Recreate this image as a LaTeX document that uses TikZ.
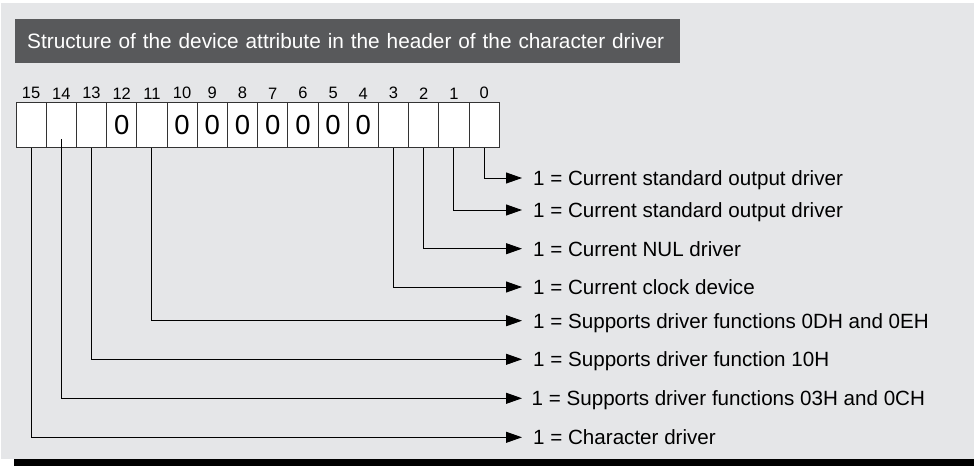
\documentclass[tikz,border=0pt]{standalone}
\usepackage{fontspec}
\setmainfont{Liberation Sans}
\usetikzlibrary{arrows.meta,calc}
\definecolor{bggray}{HTML}{E5E6E8}
\definecolor{barcol}{HTML}{58595B}
\definecolor{cellline}{HTML}{333333}
\tikzset{
  bitcell/.style={draw=cellline, line width=0.9pt, fill=white, minimum width=30.2pt, minimum height=45.4pt, inner sep=0pt},
  zero/.style={inner sep=0pt, font=\fontsize{27.5}{30}\selectfont},
  bitnum/.style={anchor=south, inner sep=0pt, font=\fontsize{16.5}{18}\selectfont},
  desc/.style={anchor=west, inner xsep=11pt, inner ysep=0pt, text height=14.7pt, text depth=0pt, font=\fontsize{20.6}{24}\selectfont},
  conn/.style={draw=black, line width=0.9pt, -{Triangle[length=16pt,width=11pt]}},
  titlebar/.style={fill=barcol, text=white, anchor=north west, minimum height=43.7pt, inner xsep=12pt, inner ysep=0pt, text width=641pt, align=left, font=\fontsize{20.8}{24}\selectfont}
}
\begin{document}
\begin{tikzpicture}[x=1pt,y=-1pt]
\useasboundingbox (0,0) rectangle (974,466);
\fill[bggray] (1,3) rectangle (974,459);
\fill[black] (14,459) rectangle (974,466);
\node[titlebar] (title) at (15,19) {Structure of the device attribute in the header of the character driver};
% bit cells
\foreach \i in {15,...,0}{
  \pgfmathsetmacro{\cx}{16+(15-\i)*30.2+15.1}
  \node[bitcell] (c\i) at (\cx,125) {};
  \node[bitnum] (n\i) at ([yshift=2.6pt]c\i.north) {\i};
}
\foreach \i in {12,10,9,8,7,6,5,4}{
  \node[zero] (z\i) at (c\i.center) {0};
}
% descriptions
\node[desc] (d0) at (522,178) {1 = Current standard output driver};
\node[desc] (d1) at (522,210) {1 = Current standard output driver};
\node[desc] (d2) at (522,248.7) {1 = Current NUL driver};
\node[desc] (d3) at (522,287) {1 = Current clock device};
\node[desc] (d11) at (522,320.7) {1 = Supports driver functions 0DH and 0EH};
\node[desc] (d13) at (522,359.3) {1 = Supports driver function 10H};
\node[desc, inner xsep=9.5pt] (d14) at (522,398.3) {1 = Supports driver functions 03H and 0CH};
\node[desc] (d15) at (522,437.3) {1 = Character driver};
% connectors
\foreach \i in {0,1,2,3,11,13,15}{
  \draw[conn] (c\i.south) |- (d\i.west);
}
\coordinate (s14) at ([yshift=8.7pt]c14.south);
\draw[conn] (s14) |- (d14.west);
\end{tikzpicture}
\end{document}
